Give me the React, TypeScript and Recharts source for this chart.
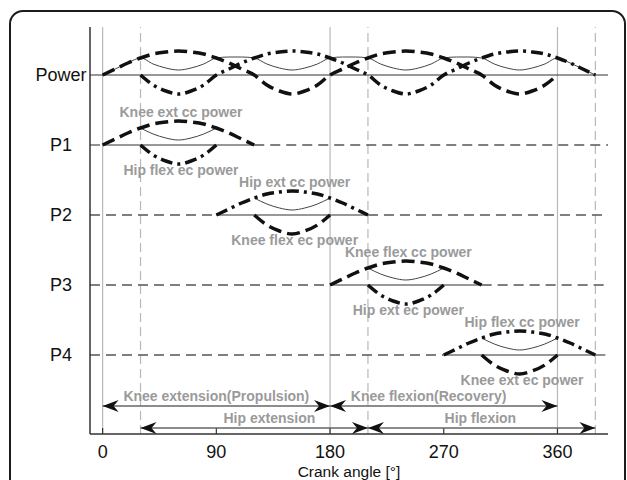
import React from 'react'
import { Line, LineChart, ReferenceDot, ReferenceLine, XAxis, YAxis } from 'recharts'

// half-wave power profiles, one value every 10° of crank angle
const kneeExtCc = [0, 6, 12, 17, 21, 23, 24, 23, 21, 17, 12, 6, 0]
const hipFlexEc = [0, -10, -16, -19, -16, -10, 0]
const hipExtCc = [0, 6, 12, 17, 21, 23, 24, 23, 21, 17, 12, 6, 0]
const kneeFlexEc = [0, -10, -16, -19, -16, -10, 0]
const kneeFlexCc = [0, 6, 12, 17, 21, 23, 24, 23, 21, 17, 12, 6, 0]
const hipExtEc = [0, -10, -16, -19, -16, -10, 0]
const hipFlexCc = [0, 6, 12, 17, 21, 23, 24, 23, 21, 17, 12, 6, 0]
const kneeExtEc = [0, -10, -16, -19, -16, -10, 0]

const rowLabels = ['Power', 'P1', 'P2', 'P3', 'P4']
const xTicks = [0, 90, 180, 270, 360]
const solidGrid = [0, 180, 360]
const dashedGrid = [30, 210, 390]

interface Component {
  name: string
  joint: 'knee' | 'hip'
  row: string
  start: number
  values: number[]
}

const components: Component[] = [
  { name: 'Knee ext cc power', joint: 'knee', row: 'P1', start: 0, values: kneeExtCc },
  { name: 'Hip flex ec power', joint: 'hip', row: 'P1', start: 30, values: hipFlexEc },
  { name: 'Hip ext cc power', joint: 'hip', row: 'P2', start: 90, values: hipExtCc },
  { name: 'Knee flex ec power', joint: 'knee', row: 'P2', start: 120, values: kneeFlexEc },
  { name: 'Knee flex cc power', joint: 'knee', row: 'P3', start: 180, values: kneeFlexCc },
  { name: 'Hip ext ec power', joint: 'hip', row: 'P3', start: 210, values: hipExtEc },
  { name: 'Hip flex cc power', joint: 'hip', row: 'P4', start: 270, values: hipFlexCc },
  { name: 'Knee ext ec power', joint: 'knee', row: 'P4', start: 300, values: kneeExtEc },
]

const phases = [
  { label: 'Knee extension(Propulsion)', from: 0, to: 180, lane: 0, textAt: 90 },
  { label: 'Knee flexion(Recovery)', from: 180, to: 360, lane: 0, textAt: 258 },
  { label: 'Hip extension', from: 30, to: 210, lane: 1, textAt: 132 },
  { label: 'Hip flexion', from: 210, to: 390, lane: 1, textAt: 299 },
]

// layout
const W = 627
const H = 480
const FONT = '"Liberation Sans", Arial, Helvetica, sans-serif'
const STEP = 10
const level: Record<string, number> = { Power: 359, P1: 289, P2: 219, P3: 149, P4: 79 }
const laneY = [28, 6]
const DASH = '13 6'
const DASHDOT = '12 5 3 5'

const valueAt = (c: Component, a: number): number | null => {
  const i = (a - c.start) / STEP
  if (i < 0 || i >= c.values.length || i !== Math.round(i)) return null
  return c.values[i]
}

const jointAt = (joint: string, a: number): number | null => {
  let v: number | null = null
  components.forEach((c) => {
    if (c.joint !== joint) return
    const x = valueAt(c, a)
    if (x !== null && v === null) v = x
  })
  return v
}

const table: Record<string, number | null>[] = []
for (let a = 0; a <= 390; a += STEP) {
  const row: Record<string, number | null> = { angle: a }
  const k = jointAt('knee', a)
  const h = jointAt('hip', a)
  row.pwKnee = k === null ? null : level.Power + k
  row.pwHip = h === null ? null : level.Power + h
  row.pwNet = level.Power + (k ?? 0) + (h ?? 0)
  rowLabels.slice(1).forEach((r) => {
    const pos = components.find((c) => c.row === r && c.values[6] > 0)!
    const neg = components.find((c) => c.row === r && c.values[3] < 0)!
    const p = valueAt(pos, a)
    const n = valueAt(neg, a)
    row[r + 'pos'] = p === null ? null : level[r] + p
    row[r + 'neg'] = n === null ? null : level[r] + n
    row[r + 'net'] = n === null || p === null ? null : level[r] + p + n
  })
  table.push(row)
}

const rowSpan = (r: string) => {
  const cs = components.filter((c) => c.row === r)
  const from = Math.min(...cs.map((c) => c.start))
  const to = Math.max(...cs.map((c) => c.start + (c.values.length - 1) * STEP))
  return [from, to]
}

const styleFor = (c: Component) => (c.joint === 'knee' ? DASH : DASHDOT)

const RowTick = (props: any) => {
  const name = rowLabels.find((r) => level[r] === props.payload.value)
  return (
    <text x={61} y={props.y} textAnchor='middle' dominantBaseline='central' fontSize={18} fill='#111' fontFamily={FONT}>
      {name}
    </text>
  )
}

const arrowHead = (dir: number) => (p: any) => {
  const { cx, cy } = p
  const d = `M${cx},${cy} L${cx - dir * 16},${cy - 6} L${cx - dir * 11},${cy} L${cx - dir * 16},${cy + 6} Z`
  return <path d={d} fill='#111' stroke='none' />
}

const textShape = (text: string) => (p: any) => (
  <text
    x={p.cx}
    y={p.cy}
    textAnchor='middle'
    dominantBaseline='central'
    fontSize={14}
    fontWeight='bold'
    fill='#9a9a9a'
    fontFamily={FONT}
  >
    {text}
  </text>
)

const lineProps = {
  dot: false,
  activeDot: false,
  isAnimationActive: false,
  type: 'monotone' as const,
  connectNulls: false,
  stroke: '#111',
}

export default function App() {
  const pRows = rowLabels.slice(1)
  return (
    <div style={{ position: 'fixed', left: 0, top: 0, width: W, height: H, overflow: 'hidden', background: '#fff' }}>
      <div
        style={{
          position: 'absolute',
          left: 9,
          top: 10,
          width: 617,
          height: 520,
          border: '2px solid #1c1c1c',
          borderRadius: 14,
          boxSizing: 'border-box',
        }}
      />
      <div style={{ position: 'absolute', left: 0, top: 0 }}>
        <LineChart width={W} height={H} data={table} margin={{ top: 27, right: 19, left: 0, bottom: 0 }}>
          <XAxis
            dataKey='angle'
            type='number'
            domain={[-10, 400]}
            ticks={xTicks}
            interval={0}
            allowDataOverflow
            tickLine={false}
            tickSize={6}
            tickMargin={5}
            height={46}
            axisLine={{ stroke: '#333', strokeWidth: 1.5 }}
            tick={{ fontSize: 18, fill: '#111', fontFamily: FONT }}
            label={{ value: 'Crank angle [°]', position: 'insideBottom', offset: 3, fontSize: 15.5, fill: '#111', fontFamily: FONT }}
          />
          <YAxis
            type='number'
            domain={[0, 407]}
            ticks={rowLabels.map((r) => level[r])}
            interval={0}
            allowDataOverflow
            width={90}
            tickLine={false}
            axisLine={{ stroke: '#333', strokeWidth: 1.5 }}
            tick={RowTick}
          />

          {solidGrid.map((x) => (
            <ReferenceLine key={'s' + x} x={x} stroke='#b8b8b8' strokeWidth={1.2} />
          ))}
          {dashedGrid.map((x) => (
            <ReferenceLine key={'d' + x} x={x} stroke='#b8b8b8' strokeWidth={1.2} strokeDasharray='9 5' />
          ))}
          {xTicks.map((x) => (
            <ReferenceLine key={'t' + x} segment={[{ x, y: 0 }, { x, y: 6 }]} stroke='#333' strokeWidth={1.2} />
          ))}

          <ReferenceLine y={level.Power} stroke='#333' strokeWidth={1.2} />
          {pRows.map((r) => {
            const [from, to] = rowSpan(r)
            const [a, b] = [from, r === 'P1' ? to : to]
            return (
              <React.Fragment key={'base' + r}>
                {from > -10 && (
                  <ReferenceLine segment={[{ x: -10, y: level[r] }, { x: a, y: level[r] }]} stroke='#555' strokeWidth={1.3} strokeDasharray='10 6' />
                )}
                <ReferenceLine segment={[{ x: a, y: level[r] }, { x: b, y: level[r] }]} stroke='#333' strokeWidth={1.2} />
                <ReferenceLine segment={[{ x: b, y: level[r] }, { x: 400, y: level[r] }]} stroke='#555' strokeWidth={1.3} strokeDasharray='10 6' />
              </React.Fragment>
            )
          })}

          {phases.map((p) => (
            <ReferenceLine
              key={'ph' + p.label}
              segment={[{ x: p.from, y: laneY[p.lane] }, { x: p.to, y: laneY[p.lane] }]}
              stroke='#666'
              strokeWidth={1.3}
            />
          ))}

          <Line {...lineProps} dataKey='pwNet' strokeWidth={1} stroke='#444' />
          <Line {...lineProps} dataKey='pwKnee' strokeWidth={3.5} strokeDasharray={DASH} />
          <Line {...lineProps} dataKey='pwHip' strokeWidth={3.5} strokeDasharray={DASHDOT} />
          {pRows.map((r) => {
            const pos = components.find((c) => c.row === r && c.values[6] > 0)!
            const neg = components.find((c) => c.row === r && c.values[3] < 0)!
            return [
              <Line key={r + 'net'} {...lineProps} dataKey={r + 'net'} strokeWidth={1} stroke='#444' />,
              <Line key={r + 'pos'} {...lineProps} dataKey={r + 'pos'} strokeWidth={3.5} strokeDasharray={styleFor(pos)} />,
              <Line key={r + 'neg'} {...lineProps} dataKey={r + 'neg'} strokeWidth={3.5} strokeDasharray={styleFor(neg)} />,
            ]
          })}

          {phases.map((p) => (
            <ReferenceDot key={'al' + p.label} x={p.from} y={laneY[p.lane]} r={1} shape={arrowHead(-1)} />
          ))}
          {phases.map((p) => (
            <ReferenceDot key={'ar' + p.label} x={p.to} y={laneY[p.lane]} r={1} shape={arrowHead(1)} />
          ))}
          {phases.map((p) => (
            <ReferenceDot key={'pt' + p.label} x={p.textAt} y={laneY[p.lane] + 10.5} r={1} shape={textShape(p.label)} />
          ))}
          {components.map((c) => {
            const mid = c.start + ((c.values.length - 1) * STEP) / 2 + 2
            const up = c.values[Math.floor(c.values.length / 2)] > 0
            return (
              <ReferenceDot
                key={'cl' + c.name}
                x={mid}
                y={level[c.row] + (up ? 33 : -24.5)}
                r={1}
                shape={textShape(c.name)}
              />
            )
          })}
        </LineChart>
      </div>
    </div>
  )
}
